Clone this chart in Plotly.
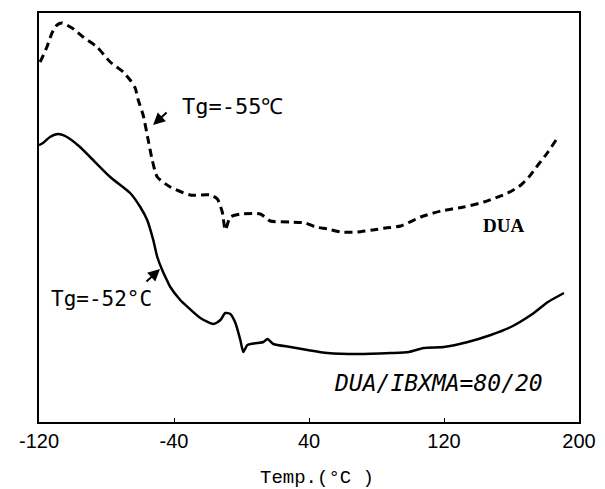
import plotly.graph_objects as go

# DUA (dashed) trace
dua_temp = [-119.4, -118.2, -115.3, -112.3, -109.3, -106.3, -100.4, -93.9, -85.6, -77.8, -70.1,
            -66.0, -63.0, -61.2, -58.3, -55.3, -52.9, -49.9, -42.2, -30.4, -18.5, -14.3, -11.4,
            -9.6, -6.6, -0.7, 11.2, 17.1, 29.0, 37.9, 43.9, 51.0, 58.7, 68.8, 77.7, 85.4, 94.3,
            106.2, 118.1, 131.7, 143.6, 157.8, 165.6, 170.3, 175.7, 181.6, 186.4]
dua_val = [360, 364, 375, 389, 397, 399, 394, 385, 375, 360, 350,
           342, 334, 322, 307, 282, 262, 245, 235, 227, 227, 223, 210,
           192, 205, 208, 208, 201, 200, 199, 195, 193, 190, 190, 192, 194, 196,
           205, 211, 215, 220, 229, 237, 245, 257, 270, 282]

# DUA/IBXMA = 80/20 (solid) trace
blend_temp = [-120.0, -117.6, -113.5, -108.7, -103.4, -95.7, -89.7, -77.8, -66.0, -60.0, -55.9,
              -52.3, -49.9, -47.0, -43.4, -42.2, -36.3, -34.5, -24.4, -16.7, -12.5, -9.6, -6.6,
              -3.6, -0.7, 1.1, 3.5, 9.4, 13.0, 15.4, 18.9, 29.0, 39.1, 51.0, 68.8, 88.4, 99.1,
              108.0, 119.8, 134.1, 147.7, 159.6, 171.5, 181.6, 191.1]
blend_val = [277, 279, 285, 288, 285, 275, 265, 245, 229, 215, 202,
             182, 165, 152, 139, 135, 122, 119, 104, 98, 102, 109, 108,
             99, 82, 70, 77, 79, 80, 83, 78, 75, 72, 69, 68, 69, 70,
             74, 75, 80, 87, 95, 107, 120, 129]

tick_vals = [-120, -40, 40, 120, 200]
tick_text = ["-120", "-40", "40", "120", "200"]

fig = go.Figure()
fig.add_trace(go.Scatter(x=dua_temp, y=dua_val, mode="lines",
                         line=dict(color="black", width=3, dash="8px,5px", shape="spline", smoothing=0.6),
                         showlegend=False, hoverinfo="skip", cliponaxis=False))
fig.add_trace(go.Scatter(x=blend_temp, y=blend_val, mode="lines",
                         line=dict(color="black", width=2.5, shape="spline", smoothing=0.6),
                         showlegend=False, hoverinfo="skip", cliponaxis=False))

mono = "DejaVu Sans Mono"
anns = [
    dict(x=-5.6, y=316, text="Tg=-55℃", showarrow=False, font=dict(family=mono, size=22, color="black")),
    dict(x=-52.4, y=297, ax=15, ay=-14, text="", showarrow=True, arrowhead=2, arrowsize=1.2,
         arrowwidth=2, arrowcolor="black"),
    dict(x=-82.7, y=123, text="Tg=-52°C", showarrow=False, font=dict(family=mono, size=21, color="black")),
    dict(x=-48.3, y=153, ax=-15, ay=14, text="", showarrow=True, arrowhead=2, arrowsize=1.2,
         arrowwidth=2, arrowcolor="black"),
    dict(x=155, y=197, text="<b>DUA</b>", showarrow=False,
         font=dict(family="Liberation Serif", size=19, color="black")),
    dict(x=117, y=39, text="<i>DUA/IBXMA=80/20</i>", showarrow=False,
         font=dict(family=mono, size=23, color="black")),
    dict(x=0.515, xref="paper", y=0, yref="paper", yshift=-56, yanchor="middle",
         text="Temp.(°C )", showarrow=False, font=dict(family="Liberation Mono", size=19, color="black")),
]

fig.update_layout(
    width=597, height=481,
    margin=dict(l=31, r=26, t=5, b=67, autoexpand=False),
    paper_bgcolor="white", plot_bgcolor="white",
    annotations=anns,
    xaxis=dict(range=[-120, 200], tickvals=tick_vals, ticktext=tick_text, automargin=False,
               showgrid=False, zeroline=False, showline=True, mirror=True,
               linecolor="black", linewidth=2, ticks="inside", ticklen=4, tickcolor="black",
               tickfont=dict(family="Liberation Sans", size=20, color="black")),
    yaxis=dict(range=[0, 409], showgrid=False, zeroline=False, showline=True, mirror=True,
               automargin=False, linecolor="black", linewidth=2, showticklabels=False, ticks=""),
)

fig.write_html("out.html")
